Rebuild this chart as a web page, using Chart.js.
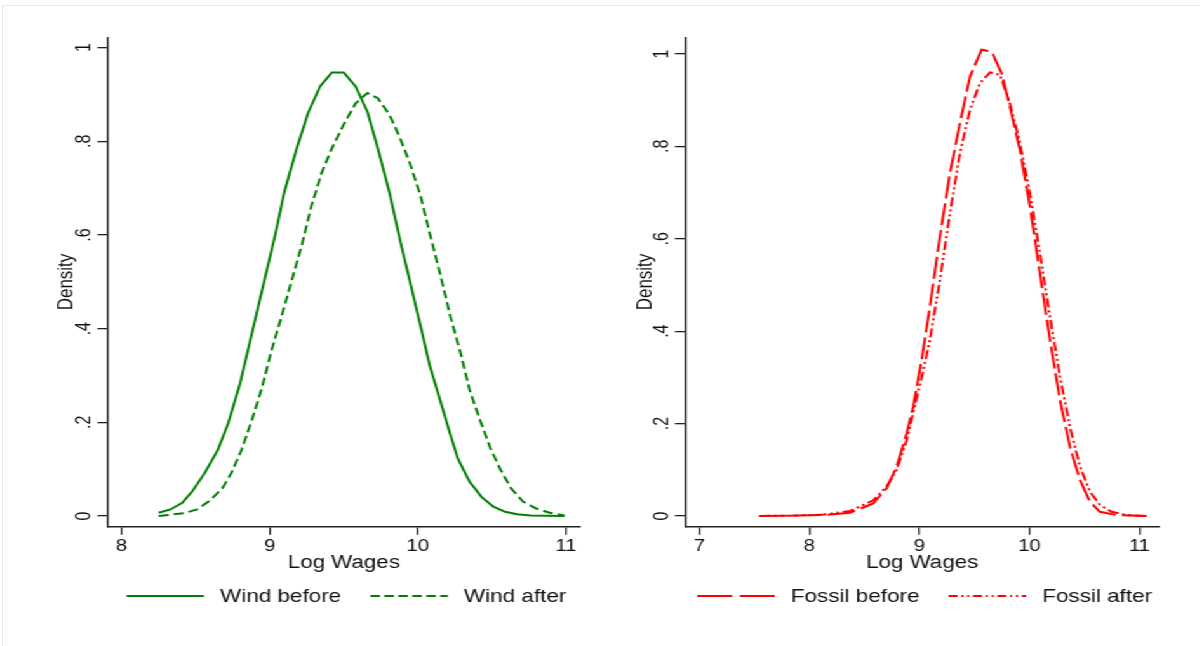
<!DOCTYPE html>
<html>
<head>
<meta charset="utf-8">
<title>Log wage densities</title>
<script src="https://cdn.jsdelivr.net/npm/chart.js@4.4.0/dist/chart.umd.min.js"></script>
<style>
  html, body { margin:0; padding:0; background:#fff; overflow:hidden; }
  #frame { position:absolute; left:2px; top:5px; width:1198px; height:641px;
           border-top:1px solid #e6edf0; border-left:1px solid #e6edf0; }
  /* stata output is wider than tall in its text, so draw narrow and stretch */
  #stretch { position:absolute; left:0; top:0; width:945px; height:646px;
             transform:scaleX(1.27); transform-origin:0 0; }
  #stretch canvas { position:absolute; top:0; }
</style>
</head>
<body>
<div id="frame"></div>
<div id="stretch">
  <canvas id="windChart" width="472" height="646" style="left:0"></canvas>
  <canvas id="fossilChart" width="473" height="646" style="left:472px"></canvas>
</div>
<script>
// ---- data ----
const windBeforeX = [8.25, 8.33, 8.41, 8.48, 8.56, 8.65, 8.72, 8.80, 8.88, 8.96, 9.04, 9.10, 9.18, 9.26, 9.34, 9.42, 9.50, 9.58, 9.66, 9.73, 9.81, 9.88, 9.95, 10.02, 10.08, 10.15, 10.21, 10.27, 10.35, 10.43, 10.51, 10.59, 10.67, 10.76, 10.99];
const windBeforeY = [0.007, 0.014, 0.028, 0.054, 0.091, 0.141, 0.198, 0.283, 0.390, 0.497, 0.604, 0.693, 0.782, 0.861, 0.917, 0.947, 0.947, 0.917, 0.863, 0.785, 0.689, 0.589, 0.497, 0.404, 0.322, 0.248, 0.184, 0.123, 0.073, 0.041, 0.020, 0.009, 0.004, 0.001, 0.000];

const windAfterX = [8.25, 8.42, 8.51, 8.60, 8.68, 8.74, 8.81, 8.88, 8.95, 9.01, 9.08, 9.15, 9.22, 9.28, 9.35, 9.42, 9.50, 9.58, 9.66, 9.73, 9.81, 9.88, 9.95, 10.02, 10.08, 10.15, 10.22, 10.29, 10.35, 10.42, 10.49, 10.56, 10.63, 10.71, 10.80, 10.89, 10.99];
const windAfterY = [0.000, 0.006, 0.014, 0.034, 0.059, 0.091, 0.141, 0.205, 0.276, 0.351, 0.426, 0.504, 0.582, 0.660, 0.732, 0.785, 0.836, 0.881, 0.903, 0.892, 0.856, 0.807, 0.750, 0.682, 0.604, 0.518, 0.426, 0.347, 0.269, 0.205, 0.145, 0.098, 0.059, 0.031, 0.016, 0.007, 0.001];

const fossilBeforeX = [7.545, 7.90, 8.127, 8.369, 8.581, 8.703, 8.794, 8.885, 8.945, 9.021, 9.096, 9.187, 9.278, 9.369, 9.460, 9.566, 9.657, 9.748, 9.823, 9.914, 10.005, 10.096, 10.187, 10.278, 10.368, 10.459, 10.550, 10.641, 10.793, 11.066];
const fossilBeforeY = [0.000, 0.001, 0.002, 0.007, 0.027, 0.060, 0.107, 0.179, 0.237, 0.338, 0.453, 0.605, 0.742, 0.850, 0.951, 1.009, 1.005, 0.958, 0.886, 0.792, 0.670, 0.525, 0.381, 0.251, 0.150, 0.078, 0.031, 0.009, 0.002, 0.000];

const fossilAfterX = [7.545, 7.90, 8.127, 8.369, 8.581, 8.703, 8.794, 8.885, 9.030, 9.096, 9.187, 9.278, 9.369, 9.460, 9.551, 9.642, 9.733, 9.823, 9.914, 10.005, 10.096, 10.187, 10.278, 10.368, 10.459, 10.550, 10.641, 10.747, 10.884, 11.066];
const fossilAfterY = [0.000, 0.001, 0.003, 0.011, 0.034, 0.064, 0.100, 0.164, 0.309, 0.381, 0.511, 0.655, 0.785, 0.879, 0.937, 0.960, 0.955, 0.893, 0.807, 0.698, 0.569, 0.431, 0.302, 0.193, 0.107, 0.053, 0.024, 0.009, 0.002, 0.000];

const windTicksX = [8, 9, 10, 11];
const fossilTicksX = [7, 8, 9, 10, 11];
const densityTicks = [0, 0.2, 0.4, 0.6, 0.8, 1];

const FONT = '"Liberation Sans", Arial, sans-serif';
const INK = '#111', AXIS = '#222';
Chart.defaults.font.family = FONT;

const pts = (xs, ys) => xs.map((x, i) => ({x: x, y: ys[i]}));
const fmtDensity = v => { const r = Math.round(v * 10) / 10; return r === 0 ? '0' : r === 1 ? '1' : String(r).replace(/^0/, ''); };

// legend drawn under the plot, stata style: line sample then label
const bottomLegend = {
  id: 'bottomLegend',
  afterDraw(chart, args, o) {
    const ctx = chart.ctx, area = chart.chartArea;
    ctx.save();
    ctx.font = '17.7px ' + FONT;
    const items = chart.data.datasets.map(ds => ({ds, w: ctx.measureText(ds.label).width}));
    const total = items.reduce((s, it) => s + o.lineLen + o.gap + it.w, 0) + o.itemGap * (items.length - 1);
    let x = (area.left + area.right) / 2 + o.shift - total / 2;
    items.forEach(it => {
      ctx.strokeStyle = it.ds.borderColor; ctx.lineWidth = 2;
      ctx.setLineDash(it.ds.legendDash || []);
      ctx.beginPath(); ctx.moveTo(x, o.y); ctx.lineTo(x + o.lineLen, o.y); ctx.stroke();
      ctx.setLineDash([]);
      x += o.lineLen + o.gap;
      ctx.fillStyle = INK; ctx.textBaseline = 'middle'; ctx.textAlign = 'left';
      ctx.fillText(it.ds.label, x, o.y + 1);
      x += it.w + o.itemGap;
    });
    ctx.restore();
  }
};

function panel(id, g) {
  return new Chart(document.getElementById(id), {
    type: 'line',
    data: { datasets: g.datasets },
    options: {
      responsive: false, animation: false, devicePixelRatio: 1,
      layout: { padding: { left: 0, right: g.width - g.right, top: 37.3, bottom: 72.1 } },
      elements: { point: { radius: 0 }, line: { tension: 0, fill: false } },
      plugins: {
        legend: { display: false }, tooltip: { enabled: false },
        bottomLegend: { y: 596, lineLen: 61, gap: 12.7, itemGap: 23, shift: 2 }
      },
      scales: {
        x: {
          type: 'linear', min: g.xMin, max: g.xMax,
          afterBuildTicks: s => { s.ticks = g.xTicks.map(v => ({value: v})); },
          afterFit: s => { s.height = 47.2; },
          grid: { display: true, drawOnChartArea: false, drawTicks: true, tickLength: 8, color: AXIS, lineWidth: 1.3 },
          border: { display: true, color: AXIS, width: 1.5 },
          ticks: { color: INK, font: { size: 16 }, padding: 2.4, maxRotation: 0, autoSkip: false, callback: v => String(v) },
          title: { display: true, text: 'Log Wages', color: INK, font: { size: 17.6 }, padding: { top: 0, bottom: 0 } }
        },
        y: {
          type: 'linear', min: g.yMin, max: g.yMax,
          afterBuildTicks: s => { s.ticks = densityTicks.map(v => ({value: v})); },
          afterFit: s => { s.width = g.axisX; },
          grid: { display: true, drawOnChartArea: false, drawTicks: true, tickLength: 8, color: AXIS, lineWidth: 1.3 },
          border: { display: true, color: AXIS, width: 1.5 },
          ticks: { color: INK, font: { size: 16 }, minRotation: 90, maxRotation: 90, crossAlign: 'center', padding: g.tickPad, autoSkip: false, callback: fmtDensity },
          title: { display: true, text: 'Density', color: INK, font: { size: 17 }, padding: { top: g.titlePad, bottom: 0 } }
        }
      }
    },
    plugins: [bottomLegend]
  });
}

panel('windChart', {
  width: 472, right: 456.9, axisX: 84.65, tickPad: 3.1, titlePad: 41.8,
  xMin: 7.905, xMax: 11.097, yMin: -0.0228, yMax: 1.022, xTicks: windTicksX,
  datasets: [
    { label: 'Wind before', data: pts(windBeforeX, windBeforeY), borderColor: '#008000', borderWidth: 2 },
    { label: 'Wind after', data: pts(windAfterX, windAfterY), borderColor: '#008000', borderWidth: 2, borderDash: [8, 4], legendDash: [7.5, 3.5] }
  ]
});

panel('fossilChart', {
  width: 473, right: 440.8, axisX: 67.4, tickPad: 3.5, titlePad: 25.7,
  xMin: 6.871, xMax: 11.18, yMin: -0.0232, yMax: 1.036, xTicks: fossilTicksX,
  datasets: [
    { label: 'Fossil before', data: pts(fossilBeforeX, fossilBeforeY), borderColor: '#ff0000', borderWidth: 2, borderDash: [22, 5], legendDash: [27.5, 6] },
    { label: 'Fossil after', data: pts(fossilAfterX, fossilAfterY), borderColor: '#ff0000', borderWidth: 2, borderDash: [9, 3, 2, 3, 2, 3], legendDash: [7, 3, 1.6, 3, 1.6, 3] }
  ]
});
</script>
</body>
</html>
